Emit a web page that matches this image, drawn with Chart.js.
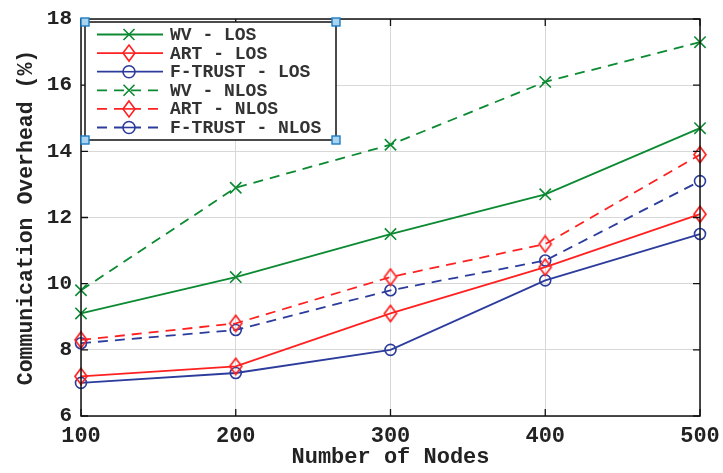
<!DOCTYPE html>
<html>
<head>
<meta charset="utf-8">
<script src="https://cdn.jsdelivr.net/npm/chart.js@4.4.1/dist/chart.umd.min.js"></script>
<style>
  html, body { margin: 0; padding: 0; background: #fff; }
  #wrap { width: 723px; height: 473px; }
</style>
</head>
<body>
<div id="wrap"><canvas id="myChart" width="723" height="473"></canvas></div>
<script>
// data
var nodes = [100, 200, 300, 400, 500];
var wvLos = [9.1, 10.2, 11.5, 12.7, 14.7];
var artLos = [7.2, 7.5, 9.1, 10.5, 12.1];
var ftLos = [7.0, 7.3, 8.0, 10.1, 11.5];
var wvNlos = [9.8, 12.9, 14.2, 16.1, 17.3];
var artNlos = [8.3, 8.8, 10.2, 11.2, 13.9];
var ftNlos = [8.2, 8.6, 9.8, 10.7, 13.1];
var seriesNames = ["WV - LOS", "ART - LOS", "F-TRUST - LOS", "WV - NLOS", "ART - NLOS", "F-TRUST - NLOS"];
var xTicks = [100, 200, 300, 400, 500];
var yTicks = [6, 8, 10, 12, 14, 16, 18];

var GREEN = "#0b8a32";
var RED = "#ff2020";
var BLUE = "#2c3c9c";
var MONO = "'Liberation Mono', 'DejaVu Sans Mono', monospace";

// tall hollow diamond marker
function makeDiamond(color) {
  var c = document.createElement("canvas");
  c.width = 16; c.height = 19;
  var g = c.getContext("2d");
  g.strokeStyle = color;
  g.lineWidth = 1.7;
  g.beginPath();
  g.moveTo(8, 1.5);
  g.lineTo(14, 9.5);
  g.lineTo(8, 17.5);
  g.lineTo(2, 9.5);
  g.closePath();
  g.stroke();
  return c;
}
var diamond = makeDiamond(RED);

function pts(vals) {
  return nodes.map(function (n, i) { return { x: n, y: vals[i] }; });
}

function ds(label, vals, color, style, dashed) {
  var d = {
    label: label,
    data: pts(vals),
    borderColor: color,
    borderWidth: 1.8,
    borderDash: dashed ? [10, 7] : [],
    pointStyle: style,
    pointBorderColor: color,
    pointBackgroundColor: "rgba(0,0,0,0)",
    pointBorderWidth: 1.6,
    pointRadius: style === "crossRot" ? 8 : 5.5,
    tension: 0,
    clip: false
  };
  return d;
}

var datasets = [
  ds(seriesNames[0], wvLos, GREEN, "crossRot", false),
  ds(seriesNames[1], artLos, RED, diamond, false),
  ds(seriesNames[2], ftLos, BLUE, "circle", false),
  ds(seriesNames[3], wvNlos, GREEN, "crossRot", true),
  ds(seriesNames[4], artNlos, RED, diamond, true),
  ds(seriesNames[5], ftNlos, BLUE, "circle", true)
];

// box frame + inward ticks
var framePlugin = {
  id: "frame",
  afterDatasetsDraw: function (chart) {
    var ctx = chart.ctx, a = chart.chartArea;
    var xs = chart.scales.x, ys = chart.scales.y;
    ctx.save();
    ctx.strokeStyle = "#111";
    ctx.lineWidth = 1.5;
    ctx.strokeRect(a.left, a.top, a.right - a.left, a.bottom - a.top);
    ctx.lineWidth = 1.3;
    ctx.beginPath();
    xTicks.forEach(function (v) {
      var px = xs.getPixelForValue(v);
      ctx.moveTo(px, a.bottom); ctx.lineTo(px, a.bottom - 7);
      ctx.moveTo(px, a.top); ctx.lineTo(px, a.top + 7);
    });
    yTicks.forEach(function (v) {
      var py = ys.getPixelForValue(v);
      ctx.moveTo(a.left, py); ctx.lineTo(a.left + 7, py);
      ctx.moveTo(a.right, py); ctx.lineTo(a.right - 7, py);
    });
    ctx.stroke();
    ctx.restore();
  }
};

// legend drawn inside the plot, top-left
var legendPlugin = {
  id: "insideLegend",
  afterDraw: function (chart) {
    var ctx = chart.ctx;
    var bx = 85, by = 22, bw = 251, bh = 118;
    ctx.save();
    ctx.fillStyle = "#fff";
    ctx.fillRect(bx, by, bw, bh);
    ctx.strokeStyle = "#111";
    ctx.lineWidth = 1.5;
    ctx.strokeRect(bx, by, bw, bh);
    ctx.font = "bold 18px " + MONO;
    ctx.textBaseline = "middle";
    chart.data.datasets.forEach(function (d, i) {
      var y = 34.5 + i * 18.6;
      ctx.strokeStyle = d.borderColor;
      ctx.lineWidth = 1.8;
      ctx.setLineDash(d.borderDash);
      ctx.beginPath();
      ctx.moveTo(97, y); ctx.lineTo(163, y);
      ctx.stroke();
      ctx.setLineDash([]);
      var cx = 129;
      ctx.lineWidth = 1.6;
      if (d.pointStyle === "crossRot") {
        ctx.beginPath();
        ctx.moveTo(cx - 5.5, y - 5.5); ctx.lineTo(cx + 5.5, y + 5.5);
        ctx.moveTo(cx + 5.5, y - 5.5); ctx.lineTo(cx - 5.5, y + 5.5);
        ctx.stroke();
      } else if (d.pointStyle === "circle") {
        ctx.fillStyle = "#fff";
        ctx.beginPath();
        ctx.arc(cx, y, 6, 0, Math.PI * 2);
        ctx.fill();
        ctx.stroke();
        ctx.beginPath();
        ctx.moveTo(cx - 6, y); ctx.lineTo(cx + 6, y);
        ctx.stroke();
      } else {
        ctx.fillStyle = "#fff";
        ctx.beginPath();
        ctx.moveTo(cx, y - 8); ctx.lineTo(cx + 6, y); ctx.lineTo(cx, y + 8); ctx.lineTo(cx - 6, y);
        ctx.closePath();
        ctx.fill();
        ctx.stroke();
        ctx.beginPath();
        ctx.moveTo(cx - 6, y); ctx.lineTo(cx + 6, y);
        ctx.stroke();
      }
      ctx.fillStyle = "#333";
      ctx.fillText(d.label, 170, y + 1);
    });
    // selection handles at the corners
    [[bx, by], [bx + bw, by], [bx, by + bh], [bx + bw, by + bh]].forEach(function (p) {
      ctx.fillStyle = "#a9d4f0";
      ctx.fillRect(p[0] - 4, p[1] - 4, 8, 8);
      ctx.strokeStyle = "#1f7cc4";
      ctx.lineWidth = 1.4;
      ctx.strokeRect(p[0] - 4, p[1] - 4, 8, 8);
    });
    ctx.restore();
  }
};

var ctx = document.getElementById("myChart");
var chart = new Chart(ctx, {
  type: "line",
  data: { datasets: datasets },
  options: {
    responsive: false,
    animation: false,
    layout: { padding: { top: 19, right: 23, left: 0, bottom: 0 } },
    plugins: { legend: { display: false }, tooltip: { enabled: false } },
    scales: {
      x: {
        type: "linear",
        min: 100, max: 500,
        afterBuildTicks: function (s) { s.ticks = xTicks.map(function (v) { return { value: v }; }); },
        afterFit: function (s) { s.height = 57; s.paddingLeft = 0; s.paddingRight = 0; },
        grid: { color: "#d8d8d8", lineWidth: 1, drawTicks: false },
        border: { display: false },
        ticks: { font: { family: MONO, size: 22, weight: "bold" }, color: "#222", padding: 7, maxRotation: 0 },
        title: { display: true, text: "Number of Nodes", font: { family: MONO, size: 22, weight: "bold" }, color: "#222", padding: { top: 0, bottom: 2 } }
      },
      y: {
        min: 6, max: 18,
        afterBuildTicks: function (s) { s.ticks = yTicks.map(function (v) { return { value: v }; }); },
        afterFit: function (s) { s.width = 81; s.paddingTop = 0; s.paddingBottom = 0; },
        grid: { color: "#d8d8d8", lineWidth: 1, drawTicks: false },
        border: { display: false },
        ticks: { font: { family: MONO, size: 21, weight: "bold" }, color: "#222", padding: 9 },
        title: { display: true, text: "Communication Overhead (%)", font: { family: MONO, size: 21.5, weight: "bold" }, color: "#222", padding: { top: 14, bottom: 0 } }
      }
    }
  },
  plugins: [framePlugin, legendPlugin]
});
</script>
</body>
</html>
